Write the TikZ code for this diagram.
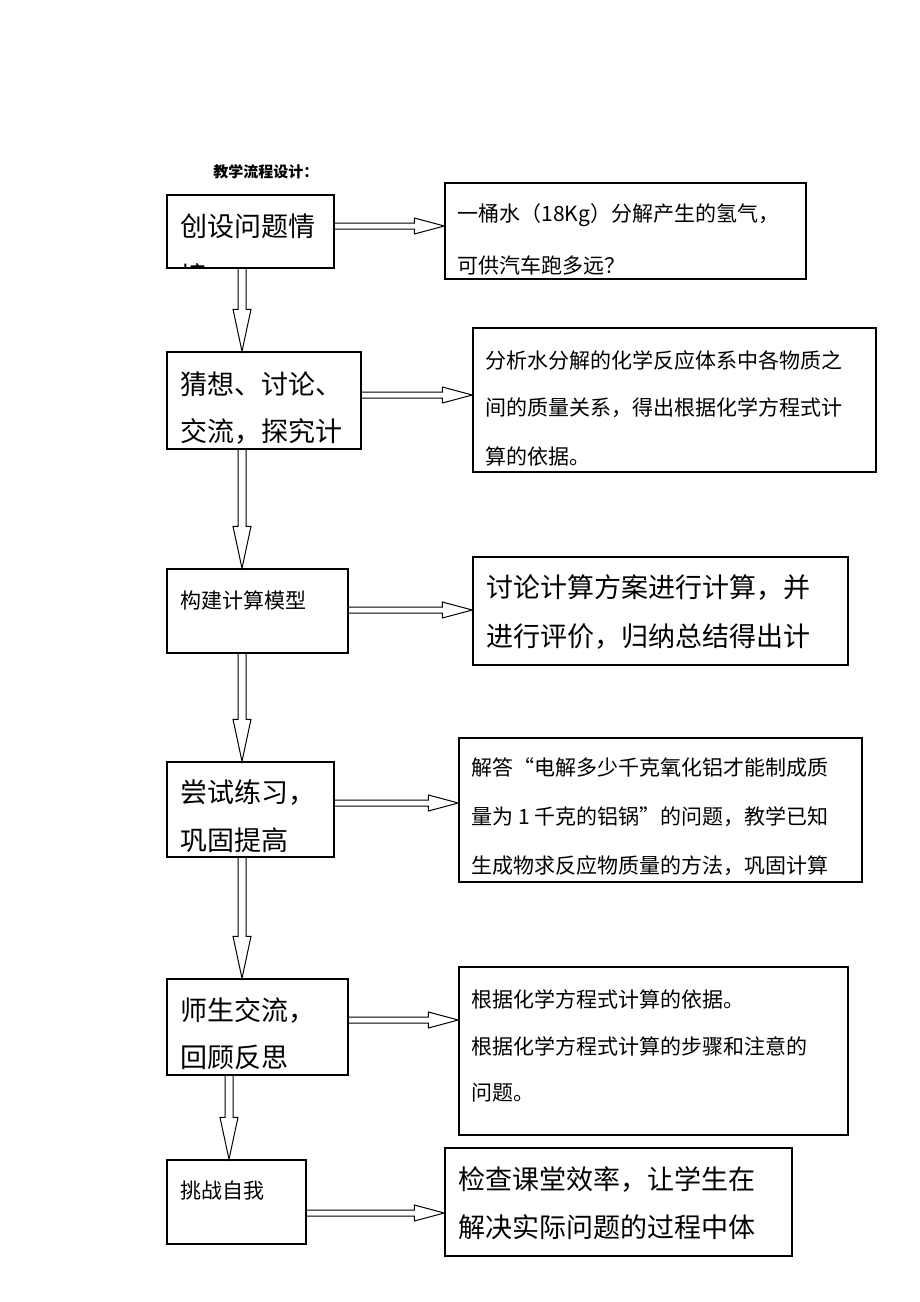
\documentclass[tikz,border=0pt]{standalone}
\usepackage{fontspec}
\newfontfamily\cjk{Noto Sans CJK SC}
\usetikzlibrary{calc,fit}
\tikzset{
  stepbox/.style={draw, line width=0.7pt, inner sep=0pt},
  flowarrow/.style={draw, line width=0.5pt},
  bigtxt/.style={anchor=west, inner sep=0pt, font=\cjk\fontsize{13.5}{16}\selectfont},
  smalltxt/.style={anchor=west, inner sep=0pt, font=\cjk\fontsize{10.5}{13}\selectfont},
}
% hollow arrow to the right: from node #1 to node #2 at height #3
\newcommand{\hollowright}[3]{%
  \draw[flowarrow] let \p1=(#1.east), \p2=(#2.west), \p3=(0,#3) in
    (\x1,\y3+1.5pt) -- (\x2-15pt,\y3+1.5pt) -- (\x2-15pt,\y3+4pt) -- (\x2,\y3)
    -- (\x2-15pt,\y3-4pt) -- (\x2-15pt,\y3-1.5pt) -- (\x1,\y3-1.5pt);}
% hollow arrow downwards: from node #1 to node #2 at x #3
\newcommand{\hollowdown}[3]{%
  \draw[flowarrow] let \p1=(#1.south), \p2=(#2.north), \p3=(#3,0) in
    (\x3-2pt,\y1) -- (\x3-2pt,\y2+21pt) -- (\x3-4.5pt,\y2+21pt) -- (\x3,\y2)
    -- (\x3+4.5pt,\y2+21pt) -- (\x3+2pt,\y2+21pt) -- (\x3+2pt,\y1);}
\begin{document}
\begin{tikzpicture}[x=0.5pt,y=-0.5pt]
\useasboundingbox (0,0) rectangle (920,1302);
\node[anchor=west, inner sep=0pt, font=\cjk\bfseries\fontsize{7.5}{9}\selectfont] (title) at (213,172){教学流程设计：};
% left column
\node[stepbox, fit={(167,195) (334,268)}] (s1) {};
\node[stepbox, fit={(167,352) (361,449)}] (s2) {};
\node[stepbox, fit={(167,569) (348,653)}] (s3) {};
\node[stepbox, fit={(167,762) (334,857)}] (s4) {};
\node[stepbox, fit={(167,979) (348,1075)}] (s5) {};
\node[stepbox, fit={(167,1160) (306,1244)}] (s6) {};
\node[bigtxt] at (180,226){创设问题情};
\begin{scope}
\clip (s1.south west) rectangle (s1.north east);
\node[bigtxt] at (180,276){境};
\end{scope}
\node[bigtxt] at (180,384){猜想、讨论、};
\node[bigtxt] at (180,431){交流，探究计};
\node[smalltxt] at (180,600){构建计算模型};
\node[bigtxt] at (180,793){尝试练习，};
\node[bigtxt] at (180,840){巩固提高};
\node[bigtxt] at (180,1010){师生交流，};
\node[bigtxt] at (180,1057){回顾反思};
\node[smalltxt] at (180,1191){挑战自我};
% right column
\node[stepbox, fit={(445,183) (806,279)}] (r1) {};
\node[stepbox, fit={(473,328) (876,472)}] (r2) {};
\node[stepbox, fit={(473,557) (848,665)}] (r3) {};
\node[stepbox, fit={(459,738) (862,882)}] (r4) {};
\node[stepbox, fit={(459,967) (848,1135)}] (r5) {};
\node[stepbox, fit={(445,1148) (792,1256)}] (r6) {};
\node[smalltxt] at (457,215){一桶水（18Kg）分解产生的氢气，};
\node[smalltxt] at (457,265){可供汽车跑多远？};
\node[smalltxt] at (485,360){分析水分解的化学反应体系中各物质之};
\node[smalltxt] at (485,408){间的质量关系，得出根据化学方程式计};
\node[smalltxt] at (485,456){算的依据。};
\node[bigtxt] at (486,588){讨论计算方案进行计算，并};
\node[bigtxt] at (486,637){进行评价，归纳总结得出计};
\node[smalltxt] at (471,768){解答“电解多少千克氧化铝才能制成质};
\node[smalltxt] at (471,817){量为 1 千克的铝锅”的问题，教学已知};
\node[smalltxt] at (471,866){生成物求反应物质量的方法，巩固计算};
\node[smalltxt] at (471,999){根据化学方程式计算的依据。};
\node[smalltxt] at (471,1046){根据化学方程式计算的步骤和注意的};
\node[smalltxt] at (471,1093){问题。};
\node[bigtxt] at (458,1179){检查课堂效率，让学生在};
\node[bigtxt] at (458,1227){解决实际问题的过程中体};
% arrows
\hollowright{s1}{r1}{226}
\hollowright{s2}{r2}{395}
\hollowright{s3}{r3}{610}
\hollowright{s4}{r4}{803}
\hollowright{s5}{r5}{1020}
\hollowright{s6}{r6}{1213}
\hollowdown{s1}{s2}{242}
\hollowdown{s2}{s3}{242}
\hollowdown{s3}{s4}{242}
\hollowdown{s4}{s5}{242}
\hollowdown{s5}{s6}{229}
\end{tikzpicture}
\end{document}
